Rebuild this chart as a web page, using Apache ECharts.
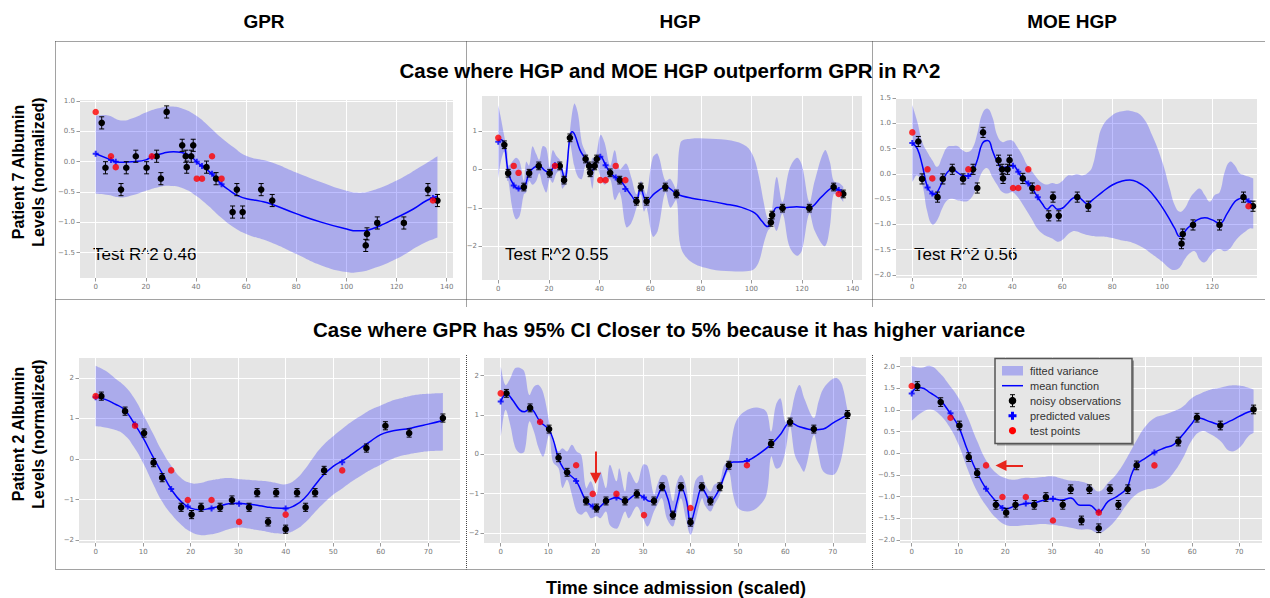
<!DOCTYPE html>
<html>
<head>
<meta charset="utf-8">
<script src="https://cdn.jsdelivr.net/npm/echarts@6/dist/echarts.min.js"></script>
<style>
html, body { margin: 0; padding: 0; background: #fff; }
#chart { width: 1270px; height: 598px; }
</style>
</head>
<body>
<div id="chart"></div>
<script>
// ---------- shared observations ----------
const OBS_ERR = 0.1; // half-height of the error bars

// Patient 7 (top row)
const p7ObsX = [2.4, 3.9, 10.1, 12.2, 16, 20.3, 24.3, 26, 28.3, 34.5, 35.9, 36.3, 38.1, 38.9, 44.2, 48, 54.6, 56.3, 58.6, 66, 70.4, 107.7, 108.2, 112.3, 122.9, 132.5, 136.3];
const p7ObsY = [0.64, -0.10, -0.46, -0.10, 0.09, -0.10, 0.09, -0.28, 0.82, 0.27, 0.09, -0.09, 0.09, 0.27, -0.09, -0.28, -0.83, -0.46, -0.83, -0.46, -0.64, -1.38, -1.19, -1.01, -1.01, -0.46, -0.64];
const p7TestX = [0, 6.1, 8.0, 22.4, 40.3, 42.4, 46.4, 50.2, 134.5];
const p7TestY = [0.82, 0.09, -0.09, 0.09, -0.28, -0.28, 0.09, -0.28, -0.64];

// Patient 2 (bottom row)
const p2ObsX = [1.2, 6.2, 10.2, 12.2, 14.0, 18.0, 20.2, 22.2, 26.2, 28.7, 32.3, 34.0, 36.3, 38.0, 40.0, 42.4, 44.2, 46.2, 48.1, 57.0, 61.0, 66.0, 73.1];
const p2ObsY = [1.55, 1.18, 0.64, -0.09, -0.46, -1.19, -1.37, -1.19, -1.19, -1.01, -1.19, -0.83, -1.55, -0.83, -1.73, -0.83, -1.19, -0.83, -0.28, 0.27, 0.82, 0.64, 1.01];
const p2TestX = [0, 8.3, 15.9, 19.4, 24.4, 30.2, 40.0, 51.9];
const p2TestY = [1.55, 0.82, -0.28, -1.01, -1.01, -1.55, -1.37, -0.28];

// ---------- GPR, patient 7 ----------
const gprP7Pred = [0.13, 0.03, 0.0, 0.08, 0.0, -0.07, -0.20, -0.37, -0.60];
const gprP7MeanX = [0, 6.1, 8, 11, 15, 20, 22.3, 27, 31, 34.3, 37.6, 40.2, 42.3, 46.3, 50.1, 53.6, 56.2, 60.2, 65.6, 70.2, 80.2, 90.2, 100.1, 104, 106.8, 110.1, 114.8, 120.1, 126.7, 132, 136.3];
const gprP7MeanY = [0.13, 0.03, 0.0, -0.01, 0.0, 0.03, 0.08, 0.14, 0.165, 0.15, 0.10, 0.0, -0.07, -0.20, -0.37, -0.48, -0.55, -0.61, -0.65, -0.70, -0.86, -1.0, -1.11, -1.14, -1.14, -1.11, -1.03, -0.92, -0.78, -0.64, -0.57];
const gprP7BandX = [0, 5, 10, 15, 20, 25, 30, 35, 40, 45, 50, 55, 60, 70, 80, 90, 100, 105, 110, 120, 130, 136.3];
const gprP7Upper = [0.76, 0.76, 0.68, 0.72, 0.81, 0.88, 0.91, 0.87, 0.76, 0.59, 0.40, 0.24, 0.10, -0.01, -0.18, -0.34, -0.48, -0.51, -0.48, -0.31, -0.07, 0.09];
const gprP7Lower = [-0.53, -0.55, -0.59, -0.55, -0.48, -0.42, -0.40, -0.44, -0.56, -0.73, -0.92, -1.08, -1.19, -1.33, -1.52, -1.71, -1.82, -1.82, -1.77, -1.60, -1.36, -1.25];

// ---------- HGP, patient 7 ----------
const hgpP7Pred = [0.72, -0.42, -0.50, 0.11, 0.33, 0.11, -0.21, -0.51, -0.54];
const hgpP7MeanX = [0, 1, 2.4, 4, 6.2, 8, 10.1, 12.2, 14.2, 16.2, 18.2, 20.3, 22.4, 24.2, 26.2, 28.3, 29.2, 30.3, 32.3, 34.5, 35.9, 36.5, 38.2, 39.1, 40.4, 42.4, 44.2, 46.4, 48.3, 50.7, 52.7, 54.5, 56.2, 58.5, 61.9, 66.3, 70.5, 76.4, 83, 89.6, 96.1, 101.4, 104.3, 106.3, 107.7, 108.3, 110, 112.3, 117.9, 122.9, 127.8, 132.5, 134.5, 136.3];
const hgpP7MeanY = [0.72, 0.78, 0.66, -0.09, -0.42, -0.50, -0.48, -0.09, 0.05, 0.10, -0.02, -0.10, 0.11, 0.11, -0.26, 0.85, 0.98, 0.89, 0.50, 0.26, 0.09, -0.09, 0.09, 0.29, 0.33, 0.11, -0.09, -0.21, -0.29, -0.51, -0.69, -0.84, -0.47, -0.83, -0.62, -0.45, -0.64, -0.75, -0.82, -0.90, -0.99, -1.14, -1.36, -1.49, -1.38, -1.19, -0.99, -1.00, -0.97, -1.00, -0.71, -0.47, -0.54, -0.64];
const hgpP7BandX = [0, 1, 2.4, 3.5, 4, 5.5, 7, 8.5, 10.1, 11, 12.2, 13.5, 15, 16.2, 17.5, 19, 20.3, 21.5, 23, 24.3, 25.2, 26, 27, 28.3, 30, 31.5, 33, 34.5, 35.9, 36.4, 37.2, 38.1, 38.9, 40.4, 42, 44.2, 46, 48, 50.5, 52.5, 54.6, 56.3, 57.5, 58.6, 61, 63, 66, 68, 70.4, 72, 76, 84, 92, 98, 101, 103, 105, 106.5, 107.7, 108.2, 110, 112.3, 115, 118, 120, 122.9, 125, 129, 131, 132.5, 134.5, 136.3];
const hgpP7Upper = [1.67, 1.35, 0.85, 0.5, 0.1, 0.2, 0.3, 0.2, -0.3, 0.2, 0.1, 0.6, 0.4, 0.25, 0.6, 0.55, 0.05, 0.5, 0.35, 0.25, 0.1, -0.1, 0.2, 1.0, 1.71, 1.45, 0.7, 0.45, 0.25, 0.1, 0.3, 0.25, 0.45, 0.9, 0.7, 0.1, 0.5, 0.0, 0.15, -0.2, -0.65, -0.3, -0.5, -0.65, 0.3, 0.4, -0.3, -0.25, -0.5, 0.7, 0.8, 0.8, 0.75, 0.6, 0.3, -0.2, -0.9, -1.3, -1.25, -1.05, -0.2, -0.85, 0.0, 0.3, 0.1, -0.85, -0.3, 0.5, 0.2, -0.3, -0.35, -0.45];
const hgpP7Lower = [-0.23, 0.2, 0.45, -0.3, -0.3, -1.0, -1.3, -1.2, -0.65, -0.6, -0.3, -0.4, -0.3, -0.1, -0.4, -0.6, -0.25, -0.35, -0.1, -0.05, -0.5, -0.45, -0.35, 0.65, 0.1, -0.2, -0.25, 0.1, -0.05, -0.25, -0.5, -0.05, 0.1, -0.2, -0.4, -0.25, -0.8, -0.6, -1.5, -1.4, -1.0, -0.65, -1.1, -1.0, -1.75, -1.6, -0.6, -1.0, -0.8, -2.0, -2.4, -2.6, -2.65, -2.65, -2.6, -2.4, -1.9, -1.6, -1.5, -1.35, -1.6, -1.15, -2.0, -2.25, -2.1, -1.15, -1.6, -2.0, -1.5, -0.65, -0.7, -0.85];

// ---------- MOE HGP, patient 7 ----------
const moeP7Pred = [0.61, -0.27, -0.39, -0.04, 0.16, 0.04, -0.19, -0.46, -0.54];
const moeP7MeanX = [0, 2, 4, 6.1, 8, 9, 10, 12, 14, 16, 18, 20, 22.4, 24, 26, 28, 30, 31, 32, 34, 36, 38, 40.3, 42.4, 44, 46.4, 48, 50.2, 52, 54, 56, 58, 60, 62, 64, 66, 68, 70, 72, 76, 80, 84, 87, 90, 94, 98, 102, 105, 107, 108, 110, 112, 114, 117, 120, 123, 126, 129, 131, 132.5, 134.5, 136.4];
const moeP7MeanY = [0.61, 0.50, 0.17, -0.27, -0.39, -0.41, -0.36, -0.16, 0.03, 0.09, 0.03, -0.03, -0.04, 0.03, 0.27, 0.60, 0.66, 0.63, 0.47, 0.24, 0.12, 0.14, 0.16, 0.04, -0.09, -0.19, -0.29, -0.46, -0.59, -0.70, -0.62, -0.70, -0.68, -0.59, -0.49, -0.45, -0.52, -0.59, -0.52, -0.36, -0.22, -0.14, -0.12, -0.16, -0.29, -0.52, -0.82, -1.08, -1.24, -1.21, -1.08, -1.0, -0.91, -0.87, -0.91, -0.98, -0.78, -0.55, -0.49, -0.47, -0.54, -0.63];
const moeP7BandX = [0, 2, 4, 6, 8, 10, 12, 14, 16, 18, 20, 22, 24, 26, 28, 30, 32, 34, 36, 38, 40, 42, 44, 46, 48, 50, 52, 54, 56, 58, 60, 62, 64, 66, 68, 70, 72, 74, 76, 80, 84, 88, 92, 96, 100, 103, 105, 107, 109, 111, 113, 115, 117, 119, 121, 123, 125, 127, 129, 131, 133, 135, 136.4];
const moeP7Upper = [1.36, 1.03, 0.63, 0.43, 0.27, 0.14, 0.34, 0.53, 0.55, 0.55, 0.47, 0.43, 0.5, 0.8, 1.19, 1.29, 1.13, 0.76, 0.63, 0.66, 0.66, 0.53, 0.37, 0.17, 0.04, -0.09, -0.18, -0.21, -0.18, -0.2, -0.14, -0.04, -0.03, -0.01, -0.03, 0.01, 0.14, 0.57, 0.93, 1.16, 1.24, 1.24, 1.13, 0.76, 0.24, -0.29, -0.62, -0.75, -0.68, -0.49, -0.36, -0.29, -0.42, -0.55, -0.42, -0.36, 0.04, 0.24, 0.17, 0.01, -0.03, -0.06, -0.09];
const moeP7Lower = [-0.16, -0.03, -0.22, -0.75, -1.0, -0.91, -0.68, -0.52, -0.49, -0.52, -0.54, -0.54, -0.45, -0.22, 0.04, 0.11, -0.06, -0.22, -0.36, -0.39, -0.36, -0.45, -0.59, -0.75, -0.91, -1.08, -1.18, -1.24, -1.28, -1.34, -1.31, -1.21, -1.14, -1.14, -1.18, -1.21, -1.23, -1.24, -1.24, -1.27, -1.32, -1.36, -1.45, -1.59, -1.74, -1.87, -1.9, -1.85, -1.69, -1.57, -1.53, -1.70, -1.75, -1.63, -1.52, -1.49, -1.53, -1.48, -1.34, -1.23, -1.15, -1.08, -1.08];

// ---------- GPR, patient 2 ----------
const gprP2Pred = [1.52, 0.85, -0.74, -1.17, -1.22, -1.10, -1.22, -0.08];
const gprP2BandX = [0, 2, 4, 6, 8, 10, 12, 14, 16, 18, 20, 22, 24, 26, 28, 30, 32, 34, 36, 38, 40, 42, 44, 46, 48, 50, 52, 54, 56, 58, 60, 62, 64, 66, 68, 70, 73.1];
const gprP2MeanY = [1.53, 1.47, 1.36, 1.22, 0.90, 0.52, 0.07, -0.35, -0.76, -1.05, -1.21, -1.25, -1.22, -1.17, -1.10, -1.09, -1.11, -1.14, -1.18, -1.21, -1.22, -1.14, -0.96, -0.67, -0.39, -0.18, -0.04, 0.12, 0.29, 0.45, 0.60, 0.68, 0.72, 0.75, 0.81, 0.86, 0.95];
const gprP2Upper = [2.30, 2.18, 2.0, 1.81, 1.52, 1.1, 0.65, 0.19, -0.18, -0.47, -0.59, -0.59, -0.53, -0.49, -0.47, -0.49, -0.51, -0.53, -0.55, -0.59, -0.62, -0.51, -0.26, 0.07, 0.35, 0.56, 0.75, 0.93, 1.08, 1.22, 1.32, 1.42, 1.49, 1.55, 1.59, 1.61, 1.63];
const gprP2Lower = [0.81, 0.78, 0.72, 0.60, 0.31, -0.10, -0.59, -1.05, -1.37, -1.62, -1.79, -1.87, -1.86, -1.81, -1.73, -1.69, -1.71, -1.75, -1.79, -1.83, -1.83, -1.75, -1.58, -1.33, -1.09, -0.88, -0.72, -0.55, -0.40, -0.26, -0.14, -0.02, 0.07, 0.12, 0.16, 0.19, 0.21];

// ---------- HGP, patient 2 ----------
const hgpP2Pred = [1.34, 0.83, -0.68, -1.33, -1.10, -1.10, -1.76, -0.17];
const hgpP2MeanX = [0, 1.2, 2.5, 4, 5, 6.2, 8.3, 10.2, 11.2, 12.2, 13.2, 14, 15.9, 18, 19.4, 20.2, 22.2, 24.4, 26.2, 28.7, 30.2, 31.3, 32.3, 34.1, 35.2, 36.3, 37.2, 38.1, 39.2, 40, 41.2, 42.4, 43.3, 44.2, 45.2, 46.2, 47.2, 48.1, 49, 50, 51.9, 54, 57, 59, 61, 63, 66, 68, 70, 73.1];
const hgpP2MeanY = [1.34, 1.55, 1.38, 1.13, 1.08, 1.17, 0.83, 0.62, 0.32, -0.12, -0.36, -0.47, -0.68, -1.19, -1.33, -1.39, -1.20, -1.10, -1.19, -1.02, -1.10, -1.20, -1.20, -0.85, -1.12, -1.57, -1.20, -0.85, -1.20, -1.76, -1.28, -0.85, -1.02, -1.20, -1.08, -0.85, -0.53, -0.27, -0.20, -0.20, -0.17, -0.03, 0.25, 0.51, 0.81, 0.70, 0.62, 0.64, 0.79, 1.0];
const hgpP2BandX = [0, 1, 2, 3, 4, 5, 6, 7, 8, 9, 10.2, 11, 12.2, 13, 14, 15, 16, 17, 18, 19, 20.2, 21, 22.2, 23, 24.4, 25, 26.2, 27, 28.7, 30, 31, 32.3, 33, 34, 35, 36.3, 37, 38, 39, 40, 41, 42.4, 43, 44.2, 45, 46.2, 47, 48.1, 49, 50, 52, 54, 56, 57, 58, 59, 60, 61, 62, 63, 64, 66, 67, 68, 70, 71, 72, 73.1];
const hgpP2Upper = [2.23, 1.76, 1.93, 2.19, 2.2, 2.1, 1.51, 1.72, 1.76, 1.55, 0.83, 0.32, 0.07, 0.15, 0.07, 0.24, 0.07, -0.02, -0.86, -0.69, -1.03, -0.44, -0.86, -0.27, -0.69, -0.36, -0.95, -0.44, -0.74, -0.27, -0.31, -1.03, -0.78, -0.53, -0.57, -1.20, -0.78, -0.53, -0.78, -1.46, -0.69, -0.53, -0.74, -0.95, -0.78, -0.69, -0.3, -0.12, 0.58, 0.92, 1.13, 1.19, 1.08, 0.58, 1.25, 1.42, 0.83, 0.96, 1.50, 1.76, 1.42, 0.92, 1.34, 1.67, 1.92, 1.93, 1.75, 1.12];
const hgpP2Lower = [0.45, 1.13, 0.75, 0.19, 0.03, 0.07, 0.83, 0.58, 0.15, -0.06, 0.49, -0.19, -0.36, -0.86, -0.65, -1.03, -1.46, -1.54, -1.46, -1.63, -1.58, -1.63, -1.46, -1.80, -1.90, -1.80, -1.46, -1.63, -1.33, -1.63, -1.84, -1.46, -1.29, -1.12, -1.63, -1.84, -1.54, -1.12, -1.63, -2.05, -1.71, -1.12, -1.29, -1.46, -1.29, -1.03, -0.69, -0.44, -1.03, -1.37, -1.46, -1.37, -1.03, -0.06, -0.36, -0.31, 0.07, 0.70, -0.02, -0.27, -0.44, 0.49, -0.02, -0.44, -0.53, -0.4, 0.0, 0.88];

// ---------- MOE HGP, patient 2 ----------
const moeP2Pred = [1.38, 0.92, -0.82, -1.26, -1.16, -1.05, -1.35, 0.02];
const moeP2MeanX = [0, 1.2, 2, 4, 6, 8.3, 10, 12, 14, 15.9, 18, 19.4, 20.2, 22, 24.4, 26, 28, 30.2, 32, 34, 36, 38, 40, 42, 44, 46, 47, 48.1, 50, 51.9, 54, 56, 58, 60, 61, 62, 64, 66, 68, 70, 72, 73.1];
const moeP2MeanY = [1.38, 1.51, 1.51, 1.39, 1.24, 0.91, 0.62, 0.05, -0.45, -0.82, -1.11, -1.26, -1.28, -1.22, -1.16, -1.15, -1.09, -1.05, -1.08, -1.03, -1.20, -1.20, -1.35, -1.11, -0.99, -0.80, -0.49, -0.26, -0.11, 0.02, 0.12, 0.20, 0.43, 0.70, 0.82, 0.80, 0.72, 0.66, 0.74, 0.85, 0.95, 0.98];
const moeP2BandX = [0, 2, 4, 6, 8, 10, 12, 14, 16, 18, 20, 22, 24, 26, 28, 30, 32, 34, 36, 38, 40, 42, 44, 46, 48, 50, 52, 54, 56, 58, 60, 62, 64, 66, 68, 70, 72, 73.1];
const moeP2Upper = [2.01, 1.97, 2.01, 1.85, 1.58, 1.28, 0.82, 0.28, -0.18, -0.45, -0.57, -0.61, -0.57, -0.57, -0.55, -0.53, -0.58, -0.63, -0.65, -0.72, -0.88, -0.68, -0.45, -0.11, 0.28, 0.62, 0.82, 0.89, 0.97, 1.08, 1.28, 1.39, 1.47, 1.51, 1.56, 1.56, 1.51, 1.47];
const moeP2Lower = [0.75, 0.93, 1.01, 0.89, 0.62, 0.20, -0.38, -0.88, -1.22, -1.49, -1.65, -1.68, -1.66, -1.65, -1.63, -1.65, -1.68, -1.72, -1.76, -1.76, -1.84, -1.72, -1.49, -1.18, -0.95, -0.84, -0.80, -0.68, -0.45, -0.11, 0.32, 0.51, 0.43, 0.28, 0.05, 0.12, 0.39, 0.47];

// ---------- tick labels ----------
const xTicksLong = [0, 20, 40, 60, 80, 100, 120, 140];
const xTicksLongCut = [0, 20, 40, 60, 80, 100, 120];
const xTicksShort = [0, 10, 20, 30, 40, 50, 60, 70];
const yTicksGprP7 = [-1.5, -1, -0.5, 0, 0.5, 1];
const yTicksHgpP7 = [-2, -1, 0, 1];
const yTicksMoeP7 = [-2, -1.5, -1, -0.5, 0, 0.5, 1, 1.5];
const yTicksInt2 = [-2, -1, 0, 1, 2];
const yTicksMoeP2 = [-2, -1.5, -1, -0.5, 0, 0.5, 1, 1.5, 2];

// ---------- text ----------
const columnTitles = ['GPR', 'HGP', 'MOE HGP'];
const rowTitles = ['Case where HGP and MOE HGP outperform GPR in R^2',
                   'Case where GPR has 95% CI Closer to 5% because it has higher variance'];
const r2Scores = ['0.46', '0.55', '0.56'];
const legendLabels = ['fitted variance', 'mean function', 'noisy observations', 'predicted values', 'test points'];

// ---------- helpers ----------
const FONT = '"Liberation Sans", Arial, Helvetica, sans-serif';
const BAND_COLOR = 'rgba(0,0,255,0.25)';
const PLUS = 'path://M1,0H2V1H3V2H2V3H1V2H0V1H1Z';
const pts = (xs, ys) => xs.map((x, i) => [x, ys[i]]);
const fmt = d => v => (v < 0 ? '\u2212' : '') + Math.abs(v).toFixed(d);

// errorbar + filled dot for each noisy observation
function renderObs(params, api) {
  const x = api.value(0), y = api.value(1);
  const c = api.coord([x, y]);
  const t = api.coord([x, y + OBS_ERR]);
  const b = api.coord([x, y - OBS_ERR]);
  const cap = 2.5, st = { stroke: '#000', lineWidth: 1 };
  return {
    type: 'group',
    children: [
      { type: 'line', shape: { x1: c[0], y1: t[1], x2: c[0], y2: b[1] }, style: st },
      { type: 'line', shape: { x1: c[0] - cap, y1: t[1], x2: c[0] + cap, y2: t[1] }, style: st },
      { type: 'line', shape: { x1: c[0] - cap, y1: b[1], x2: c[0] + cap, y2: b[1] }, style: st },
      { type: 'circle', shape: { cx: c[0], cy: c[1], r: 3.3 }, style: { fill: '#000' } }
    ]
  };
}

// variance band: one closed, smoothed polygon (upper edge forward, lower edge back).
// End vertices are doubled so the vertical end edges stay straight.
function bandRenderer(bx, bu, bl, smooth) {
  return function (params, api) {
    if (params.dataIndex !== 0) return null;
    const top = bx.map((x, k) => api.coord([x, bu[k]]));
    const bot = bx.map((x, k) => api.coord([x, bl[k]])).reverse();
    const points = [top[0]].concat(top, [top[top.length - 1], bot[0]], bot, [bot[bot.length - 1]]);
    return { type: 'polygon', shape: { points, smooth }, style: { fill: BAND_COLOR } };
  };
}

const panels = [
  { box: [80, 100, 373, 178], x: [-6.26, 142.5], y: [-1.917, 1.017], xt: xTicksLong, yt: yTicksGprP7, yd: 1,
    obs: [p7ObsX, p7ObsY], test: [p7TestX, p7TestY], pred: gprP7Pred,
    mean: [gprP7MeanX, gprP7MeanY], band: [gprP7BandX, gprP7Upper, gprP7Lower], smooth: 0.5 },
  { box: [482, 96, 380, 184], x: [-6.43, 143.7], y: [-2.88, 1.91], xt: xTicksLong, yt: yTicksHgpP7, yd: 0,
    obs: [p7ObsX, p7ObsY], test: [p7TestX, p7TestY], pred: hgpP7Pred,
    mean: [hgpP7MeanX, hgpP7MeanY], band: [hgpP7BandX, hgpP7Upper, hgpP7Lower], smooth: 0.35 },
  { box: [896, 98, 361, 180], x: [-6.52, 137.9], y: [-2.059, 1.5], xt: xTicksLongCut, yt: yTicksMoeP7, yd: 1,
    obs: [p7ObsX, p7ObsY], test: [p7TestX, p7TestY], pred: moeP7Pred,
    mean: [moeP7MeanX, moeP7MeanY], band: [moeP7BandX, moeP7Upper, moeP7Lower], smooth: 0.45 },
  { box: [79, 358, 381, 185], x: [-3.5, 76.7], y: [-2.07, 2.49], xt: xTicksShort, yt: yTicksInt2, yd: 0,
    obs: [p2ObsX, p2ObsY], test: [p2TestX, p2TestY], pred: gprP2Pred,
    mean: [gprP2BandX, gprP2MeanY], band: [gprP2BandX, gprP2Upper, gprP2Lower], smooth: 0.5 },
  { box: [484, 358, 382, 185], x: [-3.52, 77.0], y: [-2.26, 2.45], xt: xTicksShort, yt: yTicksInt2, yd: 0,
    obs: [p2ObsX, p2ObsY], test: [p2TestX, p2TestY], pred: hgpP2Pred,
    mean: [hgpP2MeanX, hgpP2MeanY], band: [hgpP2BandX, hgpP2Upper, hgpP2Lower], smooth: 0.35,
    arrow: [[20, 0.07], [20, -0.61]] },
  { box: [900, 357, 362, 186], x: [-2.5, 74.9], y: [-2.07, 2.22], xt: xTicksShort, yt: yTicksMoeP2, yd: 1,
    obs: [p2ObsX, p2ObsY], test: [p2TestX, p2TestY], pred: moeP2Pred,
    mean: [moeP2MeanX, moeP2MeanY], band: [moeP2BandX, moeP2Upper, moeP2Lower], smooth: 0.45,
    arrow: [[23.8, -0.28], [19.1, -0.28]] }
];

const grid = [], xAxis = [], yAxis = [], series = [];
panels.forEach((p, i) => {
  grid.push({ left: p.box[0], top: p.box[1], width: p.box[2], height: p.box[3],
              show: true, backgroundColor: '#e5e5e5', borderWidth: 0 });
  const axisCommon = (ticks, d) => ({
    axisLine: { show: false, onZero: false },
    axisTick: { show: true, length: 3.5, lineStyle: { color: '#9a9a9a', width: 1 }, customValues: ticks },
    axisLabel: { fontSize: 7, color: '#777', margin: 5, fontFamily: '"DejaVu Sans", sans-serif',
                 customValues: ticks, formatter: fmt(d) },
    splitLine: { show: true, lineStyle: { color: '#ffffff', width: 1 } }
  });
  xAxis.push(Object.assign({ type: 'value', gridIndex: i, min: p.x[0], max: p.x[1] }, axisCommon(p.xt, 0)));
  yAxis.push(Object.assign({ type: 'value', gridIndex: i, min: p.y[0], max: p.y[1] }, axisCommon(p.yt, p.yd)));

  const ax = { xAxisIndex: i, yAxisIndex: i };
  const [bx, bu, bl] = p.band;
  series.push(Object.assign({ type: 'custom', renderItem: bandRenderer(bx, bu, bl, p.smooth),
    data: pts(bx, bu), encode: { x: 0, y: 1 }, silent: true, z: 1 }, ax));
  // mean function
  series.push(Object.assign({ type: 'line', data: pts(p.mean[0], p.mean[1]), showSymbol: false,
    smooth: p.smooth, lineStyle: { color: '#0000ff', width: 1.5 }, silent: true, z: 2 }, ax));
  // predicted values
  series.push(Object.assign({ type: 'scatter', data: pts(p.test[0], p.pred), symbol: PLUS, symbolSize: 6,
    itemStyle: { color: '#0000ff' }, silent: true, z: 3 }, ax));
  // noisy observations
  series.push(Object.assign({ type: 'custom', renderItem: renderObs, data: pts(p.obs[0], p.obs[1]),
    encode: { x: 0, y: 1 }, silent: true, z: 4 }, ax));
  // test points (+ optional pointer arrow)
  const testSeries = Object.assign({ type: 'scatter', data: pts(p.test[0], p.test[1]), symbolSize: 6.5,
    itemStyle: { color: '#ff0000' }, silent: true, z: 5 }, ax);
  if (p.arrow) {
    testSeries.markLine = {
      silent: true, symbol: ['none', 'triangle'], symbolSize: 11, label: { show: false },
      lineStyle: { color: '#e8261d', width: 2, type: 'solid' },
      data: [[{ coord: p.arrow[0] }, { coord: p.arrow[1] }]]
    };
  }
  series.push(testSeries);
});

// ---------- frame, titles, legend ----------
const DOT = { stroke: '#444', lineWidth: 1, lineDash: [1, 1] };
const dotted = (x1, y1, x2, y2) => ({ type: 'line', silent: true, shape: { x1, y1, x2, y2 }, style: DOT });
const txt = (text, x, y, style, extra) => Object.assign({ type: 'text', x, y, silent: true,
  style: Object.assign({ text, fill: '#000', align: 'center', verticalAlign: 'middle', fontFamily: FONT }, style) }, extra || {});
const BOLD = (s) => ({ fontSize: s, fontWeight: 'bold' });

const graphics = [
  dotted(55.5, 41.5, 1265, 41.5),
  dotted(55.5, 41.5, 55.5, 569.5),
  dotted(55.5, 299.5, 1265, 299.5),
  dotted(55.5, 569.5, 1265, 569.5),
  dotted(466.5, 41.5, 466.5, 307),
  dotted(466.5, 355, 466.5, 569.5),
  dotted(872.5, 41.5, 872.5, 307),
  dotted(872.5, 355, 872.5, 569.5),

  txt(columnTitles[0], 264, 21, BOLD(19)),
  txt(columnTitles[1], 680, 21, BOLD(19)),
  txt(columnTitles[2], 1072, 21, BOLD(19)),
  txt(rowTitles[0], 670, 70, BOLD(20.5)),
  txt(rowTitles[1], 669, 329, BOLD(20.5)),
  txt('Patient 7 Albumin', 18, 172, BOLD(16), { rotation: Math.PI / 2 }),
  txt('Levels (normalized)', 38, 172, BOLD(16), { rotation: Math.PI / 2 }),
  txt('Patient 2 Albumin', 18, 434, BOLD(16), { rotation: Math.PI / 2 }),
  txt('Levels (normalized)', 38, 434, BOLD(16), { rotation: Math.PI / 2 }),
  txt('Time since admission (scaled)', 676, 588, BOLD(18)),

  txt('Test R^2 ' + r2Scores[0], 93, 254, { fontSize: 17, align: 'left' }),
  txt('Test R^2 ' + r2Scores[1], 505, 254, { fontSize: 17, align: 'left' }),
  txt('Test R^2 ' + r2Scores[2], 914, 254, { fontSize: 17, align: 'left' }),

  // legend box with a soft drop shadow
  { type: 'rect', silent: true, z: 10, shape: { x: 997, y: 360.5, width: 137, height: 85 }, style: { fill: 'rgba(0,0,0,0.35)' } },
  { type: 'rect', silent: true, z: 10, shape: { x: 995, y: 358.5, width: 137, height: 85 },
    style: { fill: '#e6e6e6', stroke: '#555', lineWidth: 1.5 } },
  { type: 'rect', silent: true, z: 10, shape: { x: 1002, y: 366, width: 21, height: 9.5 }, style: { fill: BAND_COLOR } },
  { type: 'line', silent: true, z: 10, shape: { x1: 1002, y1: 385.7, x2: 1023, y2: 385.7 }, style: { stroke: '#0000ff', lineWidth: 1.5 } },
  { type: 'line', silent: true, z: 10, shape: { x1: 1012.5, y1: 394.7, x2: 1012.5, y2: 406.7 }, style: { stroke: '#000', lineWidth: 1 } },
  { type: 'line', silent: true, z: 10, shape: { x1: 1010, y1: 394.7, x2: 1015, y2: 394.7 }, style: { stroke: '#000', lineWidth: 1 } },
  { type: 'line', silent: true, z: 10, shape: { x1: 1010, y1: 406.7, x2: 1015, y2: 406.7 }, style: { stroke: '#000', lineWidth: 1 } },
  { type: 'circle', silent: true, z: 10, shape: { cx: 1012.5, cy: 400.7, r: 3.8 }, style: { fill: '#000' } },
  { type: 'polygon', silent: true, z: 10, shape: { points: [[1011, 411.7], [1014, 411.7], [1014, 414.2], [1016.5, 414.2], [1016.5, 417.2], [1014, 417.2], [1014, 419.7], [1011, 419.7], [1011, 417.2], [1008.5, 417.2], [1008.5, 414.2], [1011, 414.2]] }, style: { fill: '#0000ff' } },
  { type: 'circle', silent: true, z: 10, shape: { cx: 1012.5, cy: 430.7, r: 3.6 }, style: { fill: '#ff0000' } }
];
legendLabels.forEach((label, k) => {
  graphics.push(txt(label, 1030, 370.7 + 15 * k, { fontSize: 11, align: 'left', fill: '#333' }, { z: 11 }));
});

const chart = echarts.init(document.getElementById('chart'), null, { renderer: 'svg' });
chart.setOption({
  animation: false,
  backgroundColor: '#ffffff',
  grid, xAxis, yAxis, series,
  graphic: { elements: graphics }
});
</script>
</body>
</html>
